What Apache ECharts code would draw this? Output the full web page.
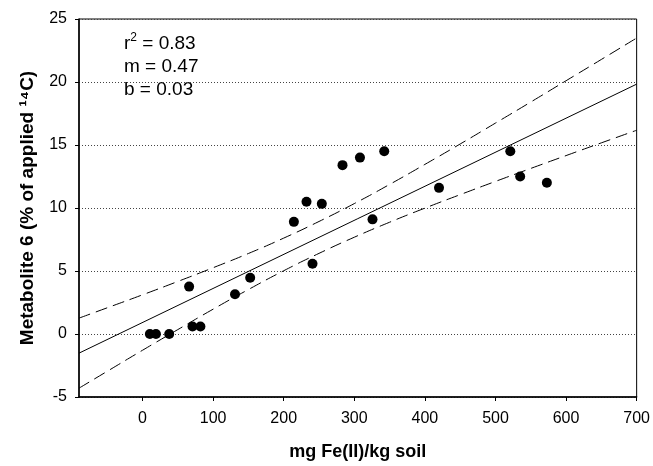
<!DOCTYPE html>
<html>
<head>
<meta charset="utf-8">
<script src="https://cdn.jsdelivr.net/npm/echarts@6/dist/echarts.min.js"></script>
<style>
  html, body { margin: 0; padding: 0; background: #fff; }
  #chart { width: 653px; height: 466px; }
</style>
</head>
<body>
<div id="chart"></div>
<script>
// measured points (mg Fe(II)/kg soil vs metabolite 6)
var feX = [10.4, 19, 37.8, 66, 70.8, 82, 131, 152.5, 214.4, 232.3, 240.8, 254, 283.3, 308, 325.8, 342.4, 420, 521, 535, 572.8]
var metY = [0, 0, 0, 3.76, 0.6, 0.6, 3.15, 4.47, 8.9, 10.5, 5.58, 10.33, 13.4, 14.0, 9.1, 14.5, 11.6, 14.5, 12.5, 12.0]

// regression line ends
var fitX = [-90, 700]
var fitY = [-1.52, 19.83]

// 95% band
var bandX = [-90, -50, 0, 50, 100, 150, 200, 250, 300, 350, 400, 450, 500, 550, 600, 650, 700]
var bandUpper = [1.26, 2.08, 3.11, 4.17, 5.26, 6.39, 7.61, 8.93, 10.35, 11.87, 13.46, 15.08, 16.74, 18.41, 20.10, 21.79, 23.49]
var bandLower = [-4.30, -2.96, -1.29, 0.35, 1.97, 3.53, 5.02, 6.40, 7.68, 8.87, 9.99, 11.06, 12.11, 13.14, 14.16, 15.17, 16.17]

var xTicks = [0, 100, 200, 300, 400, 500, 600, 700]

function pairs(xs, ys) {
  return xs.map(function(x, i) { return [x, ys[i]] })
}

var chart = echarts.init(document.getElementById('chart'))
var font = 'Liberation Sans, Arial, sans-serif'
var dashStyle = { color: '#000', width: 1, type: [12, 6] }

chart.setOption({
  animation: false,
  textStyle: { fontFamily: font },
  grid: {
    left: 79, right: 16, top: 19, bottom: 68,
    show: true, borderColor: '#000', borderWidth: 1
  },
  xAxis: {
    type: 'value',
    min: -90, max: 700,
    name: 'mg Fe(II)/kg soil',
    nameLocation: 'middle',
    nameGap: 46,
    nameTextStyle: { fontSize: 18, fontWeight: 'bold', color: '#000' },
    axisLine: { show: true, onZero: false, lineStyle: { color: '#000', width: 1.5 } },
    axisTick: { show: true, length: 4, customValues: xTicks, lineStyle: { color: '#000' } },
    axisLabel: { customValues: xTicks, fontSize: 16, color: '#000', margin: 14 },
    splitLine: { show: false }
  },
  yAxis: {
    type: 'value',
    min: -5, max: 25, interval: 5,
    name: 'Metabolite 6 (% of applied ¹⁴C)',
    nameLocation: 'middle',
    nameGap: 42,
    nameTextStyle: { fontSize: 19, fontWeight: 'bold', color: '#000' },
    axisLine: { show: true, onZero: false, lineStyle: { color: '#000', width: 1.5 } },
    axisTick: { show: true, length: 4, lineStyle: { color: '#000' } },
    axisLabel: { fontSize: 16, color: '#000', margin: 12 },
    splitLine: { show: true, lineStyle: { color: '#444', width: 1, type: [1, 2] } }
  },
  graphic: [{
    type: 'text',
    left: 124, top: 32,
    style: {
      text: '{r|r}{s|2}{r| = 0.83}\n{r|m = 0.47}\n{r|b = 0.03}',
      rich: {
        r: { fontSize: 19, fontFamily: font, fill: '#000', lineHeight: 23 },
        s: { fontSize: 12, fontFamily: font, fill: '#000', verticalAlign: 'top', lineHeight: 23, padding: [0, 0, 8, 0] }
      }
    }
  }],
  series: [
    {
      type: 'line',
      data: pairs(bandX, bandUpper),
      smooth: true, symbol: 'none',
      lineStyle: dashStyle, z: 2
    },
    {
      type: 'line',
      data: pairs(bandX, bandLower),
      smooth: true, symbol: 'none',
      lineStyle: dashStyle, z: 2
    },
    {
      type: 'line',
      data: pairs(fitX, fitY),
      symbol: 'none',
      lineStyle: { color: '#000', width: 1 }, z: 2
    },
    {
      type: 'scatter',
      data: pairs(feX, metY),
      symbol: 'circle', symbolSize: 10,
      itemStyle: { color: '#000', opacity: 1 }, z: 3
    }
  ]
})
</script>
</body>
</html>
